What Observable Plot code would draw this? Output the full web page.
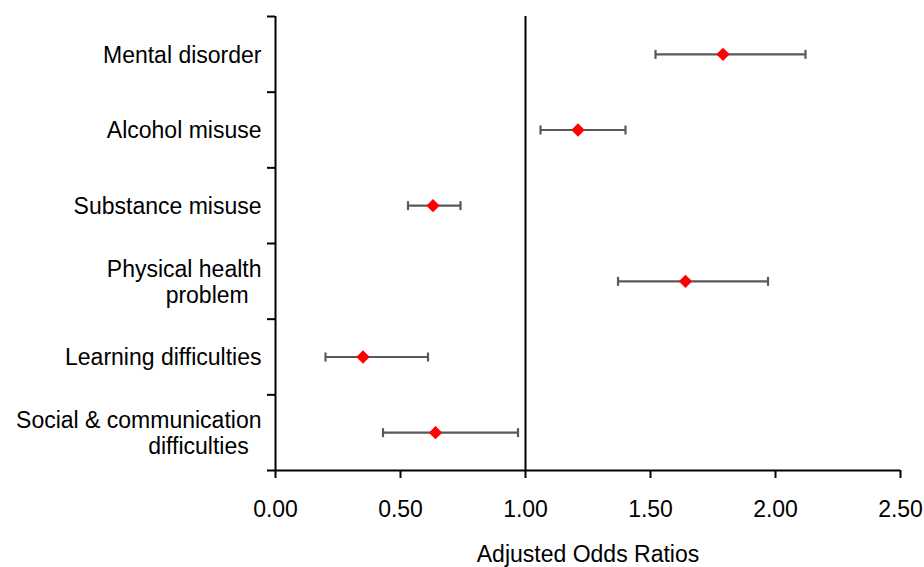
<!DOCTYPE html>
<html><head><meta charset="utf-8">
<script src="https://cdn.jsdelivr.net/npm/d3@7"></script>
<script src="https://cdn.jsdelivr.net/npm/@observablehq/plot@0.6"></script>
<style>body{margin:0;background:#fff;} svg{display:block}</style>
</head><body><div id="chart"></div>
<script>
const categories = ["Mental disorder", "Alcohol misuse", "Substance misuse", "Physical health\nproblem\u00a0\u00a0", "Learning difficulties", "Social & communication\ndifficulties\u00a0\u00a0"];
const oddsRatio = [1.79, 1.21, 0.63, 1.64, 0.35, 0.64];
const ciLow = [1.52, 1.06, 0.53, 1.37, 0.20, 0.43];
const ciHigh = [2.12, 1.40, 0.74, 1.97, 0.61, 0.97];
const xTicks = [0, 0.5, 1, 1.5, 2, 2.5];
const xLabel = "Adjusted Odds Ratios";
const refValue = 1;

const rows = categories.map((c, i) => ({category: c, pos: i + 0.5, or: oddsRatio[i], lo: ciLow[i], hi: ciHigh[i]}));
const bounds = d3.range(categories.length + 1);
const caps = rows.flatMap(d => [{pos: d.pos, x: d.lo}, {pos: d.pos, x: d.hi}]);
const capSymbol = {draw(ctx, size) { const h = Math.sqrt(size / Math.PI); ctx.moveTo(0, -h); ctx.lineTo(0, h); }};
const FONT = "'Liberation Sans', Arial, sans-serif";

const chart = Plot.plot({
  width: 924, height: 567,
  marginLeft: 275, marginRight: 24, marginTop: 16, marginBottom: 97,
  style: {fontFamily: FONT, fontSize: "23px", color: "#000", background: "#fff"},
  x: {domain: [0, 2.5], ticks: xTicks, tickFormat: d3.format(".2f")},
  y: {domain: [0, categories.length], reverse: true},
  marks: [
    Plot.axisX({ticks: xTicks, tickFormat: d3.format(".2f"), tickSize: 8, tickPadding: 22, strokeWidth: 2, label: null, fontSize: 23}),
    Plot.axisY({ticks: bounds, tickSize: 8, tickFormat: () => "", strokeWidth: 2, label: null}),
    Plot.ruleX([0], {stroke: "#000", strokeWidth: 2}),
    Plot.ruleY([categories.length], {stroke: "#000", strokeWidth: 2}),
    Plot.ruleX([refValue], {stroke: "#000", strokeWidth: 2}),
    Plot.link(rows, {x1: "lo", x2: "hi", y1: "pos", y2: "pos", stroke: "#595959", strokeWidth: 2.2}),
    Plot.dot(caps, {x: "x", y: "pos", symbol: capSymbol, r: 4.5, stroke: "#595959", strokeWidth: 2.2, fill: "none"}),
    Plot.dot(rows, {x: "or", y: "pos", symbol: "diamond2", r: 6, fill: "#ff0000", stroke: "none"}),
    Plot.text(rows, {frameAnchor: "left", y: "pos", text: "category", textAnchor: "end", dx: -14, lineHeight: 1.15, fontSize: 23, fill: "#000"}),
    Plot.text([xLabel], {frameAnchor: "bottom", text: d => d, dy: 84, lineAnchor: "middle", fontSize: 23, fill: "#000"})
  ]
});
document.getElementById("chart").append(chart);
</script>
</body></html>
